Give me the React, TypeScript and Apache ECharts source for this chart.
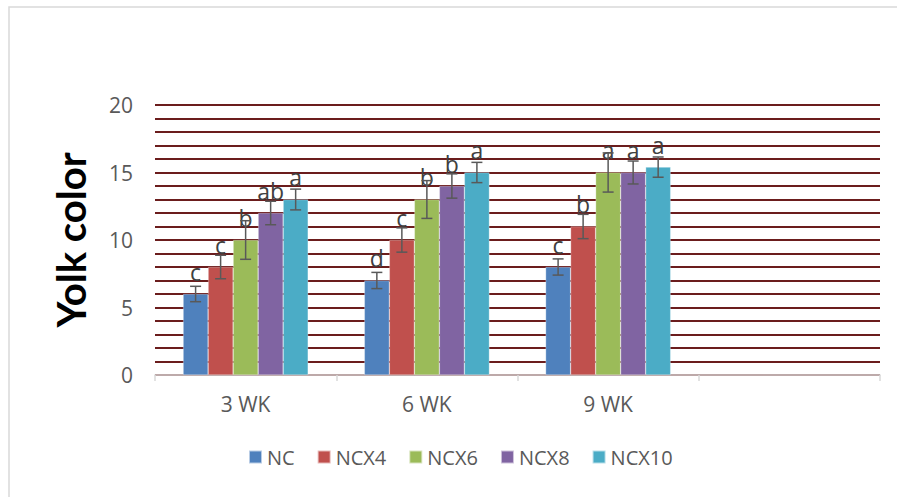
import React, { useEffect, useRef } from "react";
import * as echarts from "echarts";

const categories = ["3 WK", "6 WK", "9 WK", ""];
const seriesNames = ["NC", "NCX4", "NCX6", "NCX8", "NCX10"];
const colors = ["#4F81BD", "#C0504D", "#9BBB59", "#8064A2", "#4BACC6"];
const values = [
  [6, 7, 8],
  [8, 10, 11],
  [10, 13, 15],
  [12, 14, 15],
  [13, 15, 15.4],
];
const errors = [
  [0.57, 0.6, 0.6],
  [0.87, 0.9, 0.9],
  [1.43, 1.4, 1.45],
  [0.87, 0.9, 0.85],
  [0.77, 0.75, 0.75],
];
const letters = [
  ["c", "d", "c"],
  ["c", "c", "b"],
  ["b", "b", "a"],
  ["ab", "b", "a"],
  ["a", "a", "a"],
];
const yTickLabels = [0, 5, 10, 15, 20];

const FONT = "'Open Sans', 'Liberation Sans', sans-serif";
const NAME_FONT = "Lato, 'Liberation Sans', sans-serif";
const CAT_GAP = 0.31;

export default function App() {
  const ref = useRef<HTMLDivElement>(null);
  useEffect(() => {
    if (!ref.current) return;
    const chart = echarts.init(ref.current, undefined, { renderer: "svg" });
    const nS = seriesNames.length;

    const barSeries = seriesNames.map((name, i) => ({
      name,
      type: "bar",
      data: values[i].map((v, j) => ({
        value: v,
        label: { formatter: letters[i][j] },
      })),
      itemStyle: { color: colors[i], borderColor: "rgba(255,255,255,0.6)", borderWidth: 0.5 },
      barGap: "0%",
      barCategoryGap: CAT_GAP * 100 + "%",
      label: {
        show: true,
        position: "top",
        distance: 11,
        color: "#404040",
        fontSize: 23,
        fontFamily: FONT,
      },
      z: 2,
    }));

    const errSeries = seriesNames.map((name, i) => ({
      type: "custom",
      name: name + "_err",
      data: values[i].map((v, j) => [j, v - errors[i][j], v + errors[i][j]]),
      renderItem: (params: any, api: any) => {
        const cat = api.value(0);
        const lo = api.coord([cat, api.value(1)]);
        const hi = api.coord([cat, api.value(2)]);
        const catW = api.size([1, 0])[0];
        const groupW = catW * (1 - CAT_GAP);
        const barW = groupW / nS;
        const x = lo[0] - groupW / 2 + barW * (i + 0.5);
        const cap = 5.5;
        const style = { stroke: "#595959", lineWidth: 1.5 };
        return {
          type: "group",
          children: [
            { type: "line", shape: { x1: x, y1: lo[1], x2: x, y2: hi[1] }, style },
            { type: "line", shape: { x1: x - cap, y1: lo[1], x2: x + cap, y2: lo[1] }, style },
            { type: "line", shape: { x1: x - cap, y1: hi[1], x2: x + cap, y2: hi[1] }, style },
          ],
        };
      },
      z: 5,
      silent: true,
    }));

    chart.setOption({
      animation: false,
      backgroundColor: "#ffffff",
      graphic: [
        {
          type: "rect",
          shape: { x: 9, y: 7, width: 1000, height: 600 },
          style: { fill: "none", stroke: "#d9d9d9", lineWidth: 1.5 },
          silent: true,
        },
      ],
      legend: {
        data: seriesNames,
        bottom: 25,
        left: 243,
        itemWidth: 13,
        itemHeight: 13,
        itemGap: 22,
        icon: "rect",
        textStyle: { color: "#595959", fontSize: 20, fontFamily: FONT },
      },
      grid: { left: 155, right: 17, top: 105, bottom: 122, containLabel: false },
      xAxis: {
        type: "category",
        data: categories,
        axisLine: { lineStyle: { color: "#d9d9d9", width: 1.5 } },
        axisTick: { show: true, length: 6, lineStyle: { color: "#d9d9d9", width: 1.5 } },
        axisLabel: { color: "#595959", fontSize: 21, fontFamily: FONT, margin: 18 },
      },
      yAxis: {
        type: "value",
        min: 0,
        max: 20,
        interval: 1,
        name: "Yolk color",
        nameLocation: "middle",
        nameGap: 64,
        nameTextStyle: { fontSize: 40, fontWeight: "bold", color: "#000000", fontFamily: NAME_FONT },
        axisLine: { show: false },
        axisTick: { show: false },
        axisLabel: {
          color: "#595959",
          fontSize: 21,
          fontFamily: FONT,
          margin: 22,
          formatter: (v: number) => (yTickLabels.includes(v) ? String(v) : ""),
        },
        splitLine: { show: true, lineStyle: { color: "#6B1D1D", width: 2 } },
      },
      series: [...barSeries, ...errSeries],
    });
    return () => chart.dispose();
  }, []);
  return (
    <div
      ref={ref}
      style={{ position: "fixed", left: 0, top: 0, width: 897, height: 497 }}
    />
  );
}
